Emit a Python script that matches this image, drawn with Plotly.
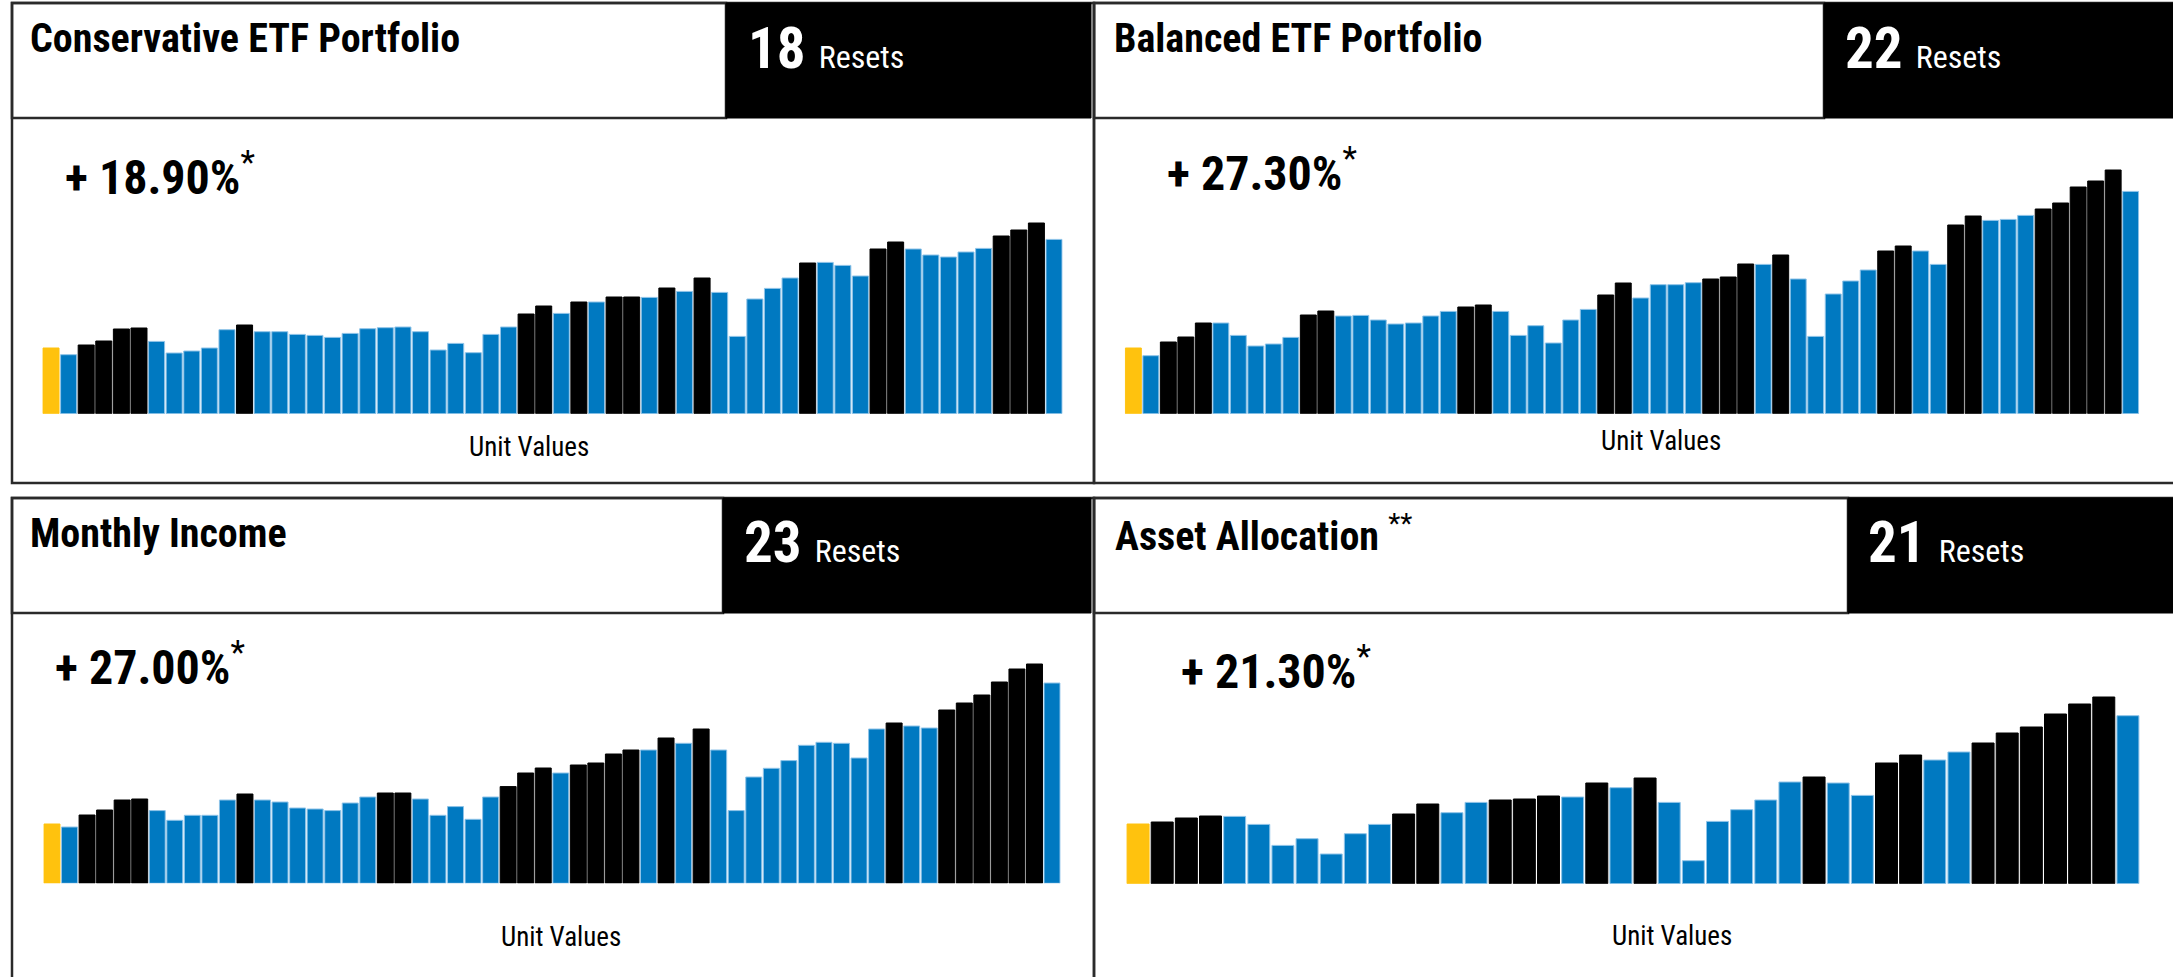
import plotly.graph_objects as go

W, H = 2173, 977

# ---------------- data ----------------
titles = ["Conservative ETF Portfolio", "Balanced ETF Portfolio", "Monthly Income", "Asset Allocation"]
title_marks = ["", "", "", "**"]
reset_counts = [18, 22, 23, 21]
returns = ["+ 18.90%", "+ 27.30%", "+ 27.00%", "+ 21.30%"]
axis_label = "Unit Values"

conservative_values = [65.7, 59, 68.7, 72.7, 84.7, 85.7, 72.3, 60.7, 62.7, 65.7,
                       84, 88.7, 82, 82, 79.3, 78.3, 76.3, 80.3, 85, 86,
                       86.7, 82, 63.7, 70.3, 61, 79.3, 86.7, 99.7, 107.7, 100.3,
                       111.7, 111.7, 116.7, 116.7, 116.3, 125.7, 122.3, 135.7, 121.3, 77.3,
                       114.7, 125.3, 135.7, 150.7, 151.3, 148.3, 137.7, 164.7, 171.7, 164.7,
                       158.7, 156.7, 161.7, 165.3, 177.7, 183.7, 190.7, 174.3]
conservative_resets = [3, 4, 5, 6, 12, 28, 29, 31, 33, 34, 36, 38, 44, 48, 49, 55, 56, 57]

balanced_values = [65.7, 58, 71.7, 76.7, 90.7, 90.7, 78.3, 67.7, 69.7, 76.3,
                   98.7, 102.7, 97.7, 98.3, 93.7, 89.7, 90.7, 97.7, 102.3, 106.7,
                   108.7, 102.3, 78.3, 88, 70.7, 93.7, 104.3, 118.7, 130.7, 115.7,
                   129, 129, 131, 134.7, 136.7, 149.7, 149.3, 158.7, 134.7, 77.3,
                   119.7, 132.7, 143.7, 162.7, 167.7, 162.7, 149.3, 188.7, 197.7, 193.3,
                   194.3, 198.3, 204.7, 210.7, 226.7, 232.7, 243.7, 222.3]
balanced_resets = [3, 4, 5, 11, 12, 20, 21, 28, 29, 34, 35, 36, 38, 44, 45, 48, 49, 53, 54, 55, 56, 57]

income_values = [59.3, 56.3, 68.3, 73.3, 83.3, 84.3, 72.7, 63, 68, 68,
                 83.3, 89.3, 83.3, 81.3, 75.3, 74.3, 72.7, 80.3, 86.3, 90.3,
                 90.3, 84.3, 68, 76.7, 64, 86.3, 96.7, 110.3, 115.3, 110.3,
                 118.3, 120.3, 129.3, 133.3, 133.3, 145.3, 140, 154.3, 133.3, 72.7,
                 106.3, 115, 122.7, 138, 141, 140, 125.3, 154.3, 160.3, 157.3,
                 155.3, 173.3, 180.3, 188.3, 201.3, 214.3, 219.3, 200.3]
income_resets = [3, 4, 5, 6, 12, 20, 21, 27, 28, 29, 31, 32, 33, 34, 36, 38, 49, 52, 53, 54, 55, 56, 57]

allocation_values = [59.7, 61.7, 65.7, 67.7, 67.3, 59.3, 38.3, 45, 29.7, 50,
                     59.3, 69.7, 79.7, 71, 81.3, 83.7, 84.7, 87.7, 86.7, 100.7,
                     96, 105.7, 81.3, 23, 62.3, 74, 83.7, 101.7, 106.7, 100.7,
                     88.3, 120.7, 128.7, 123.7, 131.7, 140.7, 150.7, 156.7, 169.7, 179.7,
                     186.7, 168]
allocation_resets = [2, 3, 4, 12, 13, 16, 17, 18, 20, 22, 29, 32, 33, 36, 37, 38, 39, 40, 41]

series_values = [conservative_values, balanced_values, income_values, allocation_values]
series_resets = [conservative_resets, balanced_resets, income_resets, allocation_resets]

# ---------------- style ----------------
START_C, RESET_C, UNIT_C = "#FFC20E", "#000000", "#0079C1"
UNIT_EDGE = "#8EC3E8"
BORDER = "#2a2a2a"
FONT = "Liberation Sans Narrow, Arial Narrow, Roboto Condensed, DejaVu Sans Condensed, sans-serif"


def px(x):
    return x / W


def py(y):
    return 1 - y / H


# plot areas in pixels: (x0, x1, y_top, y_base)
areas = [(42.2, 1062.8, 200, 413.7),
         (1124.6, 2139.4, 160, 413.7),
         (43.2, 1060.8, 650, 883.3),
         (1126.0, 2140.0, 680, 883.7)]

fig = go.Figure()
for i, (vals, resets) in enumerate(zip(series_values, series_resets)):
    n = len(vals)
    colors, edges = [], []
    for k in range(1, n + 1):
        if k == 1:
            colors.append(START_C); edges.append(START_C)
        elif k in resets:
            colors.append(RESET_C); edges.append(RESET_C)
        else:
            colors.append(UNIT_C); edges.append(UNIT_EDGE)
    xa = "x" if i == 0 else f"x{i+1}"
    ya = "y" if i == 0 else f"y{i+1}"
    fig.add_trace(go.Bar(x=list(range(n)), y=vals, xaxis=xa, yaxis=ya,
                         marker=dict(color=colors, line=dict(color=edges, width=1)),
                         showlegend=False, hoverinfo="y"))
    x0, x1, yt, yb = areas[i]
    xk = "xaxis" if i == 0 else f"xaxis{i+1}"
    yk = "yaxis" if i == 0 else f"yaxis{i+1}"
    fig.layout[xk] = dict(domain=[px(x0), px(x1)], range=[-0.5, n - 0.5], visible=False,
                          anchor=ya, fixedrange=True)
    fig.layout[yk] = dict(domain=[py(yb), py(yt)], range=[0, yb - yt], visible=False,
                          anchor=xa, fixedrange=True)

shapes = []


def rect(x0, y0, x1, y1, fill="rgba(0,0,0,0)", line=BORDER, lw=2.5):
    shapes.append(dict(type="rect", xref="paper", yref="paper", x0=px(x0), x1=px(x1),
                       y0=py(y1), y1=py(y0), fillcolor=fill, line=dict(color=line, width=lw),
                       layer="below"))


# row 1
rect(12, 3, 1094, 483)
rect(12, 3, 726, 118)
rect(726, 3, 1091, 118, fill="#000", line="#000", lw=1)
rect(1094, 3, 2185, 483)
rect(1094, 3, 1824, 118)
rect(1824, 3, 2185, 118, fill="#000", line="#000", lw=1)
# row 2
rect(12, 498, 1094, 995)
rect(12, 498, 723, 613)
rect(723, 498, 1091, 613, fill="#000", line="#000", lw=1)
rect(1094, 498, 2185, 995)
rect(1094, 498, 1848, 613)
rect(1848, 498, 2185, 613, fill="#000", line="#000", lw=1)

ann = []


def text(x, y, s, size, color="#000", xanchor="left"):
    ann.append(dict(x=px(x), y=py(y), xref="paper", yref="paper", text=s, showarrow=False,
                    xanchor=xanchor, yanchor="middle",
                    font=dict(family=FONT, size=size, color=color)))


title_pos = [(28, 38), (1112, 38), (28, 533), (1113, 533)]
reset_pos = [(746, 48), (1843, 48), (742, 542), (1866, 542)]
pct_pos = [(63, 175), (1165, 170), (53, 664), (1179, 668)]
uv_pos = [(529, 447), (1661, 441), (561, 937), (1672, 936)]

for i in range(4):
    t = f"<b>{titles[i]}</b>"
    if title_marks[i]:
        t += f" <sup>{title_marks[i]}</sup>"
    text(*title_pos[i], t, 40)
    text(*reset_pos[i],
         f"<b>{reset_counts[i]}</b> <span style='font-size:32px'>Resets</span>", 57, color="#fff")
    text(*pct_pos[i], f"<b>{returns[i]}</b><sup>*</sup>", 48)
    text(*uv_pos[i], axis_label, 27, xanchor="center")

fig.update_layout(width=W, height=H, margin=dict(l=0, r=0, t=0, b=0),
                  paper_bgcolor="#fff", plot_bgcolor="rgba(0,0,0,0)",
                  bargap=0.09, shapes=shapes, annotations=ann,
                  font=dict(family=FONT))
fig.write_html("out.html", config={"displayModeBar": False},
               post_script="document.body.style.margin='0';document.documentElement.style.overflow='hidden';")
